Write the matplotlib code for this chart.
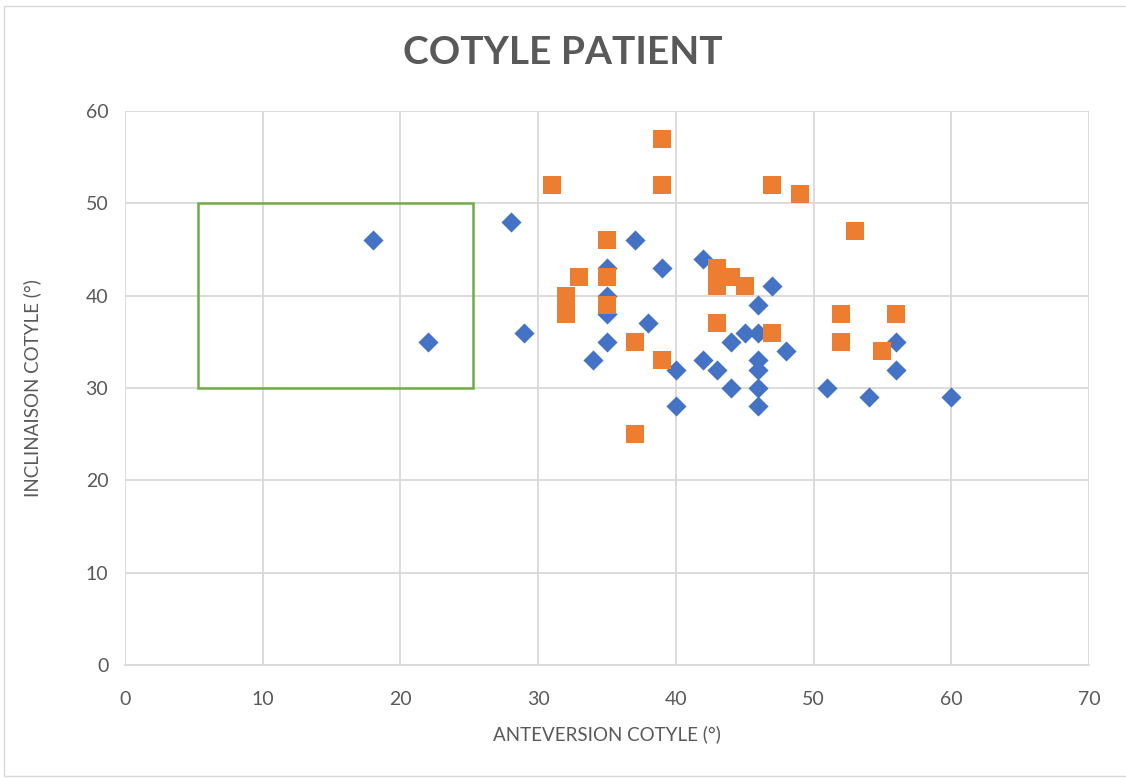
import matplotlib
matplotlib.use("Agg")
import matplotlib.pyplot as plt
from matplotlib.patches import Rectangle

plt.rcParams['font.family'] = ['Lato', 'DejaVu Sans']

# Blue series (diamonds)
blue_x = [18, 22, 28, 29, 34, 35, 35, 35, 35, 37, 38, 39, 40, 40, 42, 42, 43, 44, 44,
          45, 46, 46, 46, 46, 46, 46, 47, 48, 51, 54, 56, 56, 60]
blue_y = [46, 35, 48, 36, 33, 43, 40, 38, 35, 46, 37, 43, 32, 28, 44, 33, 32, 35, 30,
          36, 39, 36, 33, 32, 30, 28, 41, 34, 30, 29, 35, 32, 29]

# Orange series (squares)
orange_x = [31, 32, 32, 33, 35, 35, 35, 37, 37, 39, 39, 39, 43, 43, 43, 44, 45, 47, 47,
            49, 52, 52, 53, 55, 56]
orange_y = [52, 40, 38, 42, 46, 42, 39, 35, 25, 57, 52, 33, 43, 41, 37, 42, 41, 52, 36,
            51, 38, 35, 47, 34, 38]

# Green target zone
zone_x = [5.3, 25.3]
zone_y = [30, 50]

title = "COTYLE PATIENT"
xlabel = "ANTEVERSION COTYLE (°)"
ylabel = "INCLINAISON COTYLE (°)"
xticks = [0, 10, 20, 30, 40, 50, 60, 70]
yticks = [0, 10, 20, 30, 40, 50, 60]

text_color = "#595959"
grid_color = "#D9D9D9"

fig = plt.figure(figsize=(11.26, 7.78), dpi=100)
ax = fig.add_axes([125/1126, 113/778, 964/1126, 554/778])

# chart border
fig.patches.append(Rectangle((4/1126, 2/778), 1150/1126, 770/778, transform=fig.transFigure,
                             fill=False, edgecolor="#D9D9D9", linewidth=1.0))

ax.set_xlim(0, 70)
ax.set_ylim(0, 60)
ax.set_xticks(xticks)
ax.set_yticks(yticks)
ax.grid(True, color=grid_color, linewidth=1.3)
ax.set_axisbelow(True)
for s in ["top", "right", "left"]:
    ax.spines[s].set_visible(False)
ax.spines["bottom"].set_color(grid_color)
ax.spines["bottom"].set_linewidth(1.3)
ax.tick_params(axis="both", length=0, labelsize=14, labelcolor=text_color)
ax.tick_params(axis="x", pad=19)
ax.tick_params(axis="y", pad=12)

ax.add_patch(Rectangle((zone_x[0], zone_y[0]), zone_x[1] - zone_x[0], zone_y[1] - zone_y[0],
                       fill=False, edgecolor="#70AD47", linewidth=1.8, zorder=2))

ax.scatter(blue_x, blue_y, marker="D", s=105, color="#4472C4", zorder=3, linewidths=0)
ax.scatter(orange_x, orange_y, marker="s", s=170, color="#ED7D31", zorder=4, linewidths=0)

ax.set_xlabel(xlabel, fontsize=13.5, color=text_color, labelpad=12)
ax.set_ylabel(ylabel, fontsize=13.5, color=text_color, labelpad=32)

fig.text(0.5, 1 - 52/778, title, ha="center", va="center", fontsize=28,
         fontweight="bold", color=text_color)

fig.savefig("out.png", dpi=100)
